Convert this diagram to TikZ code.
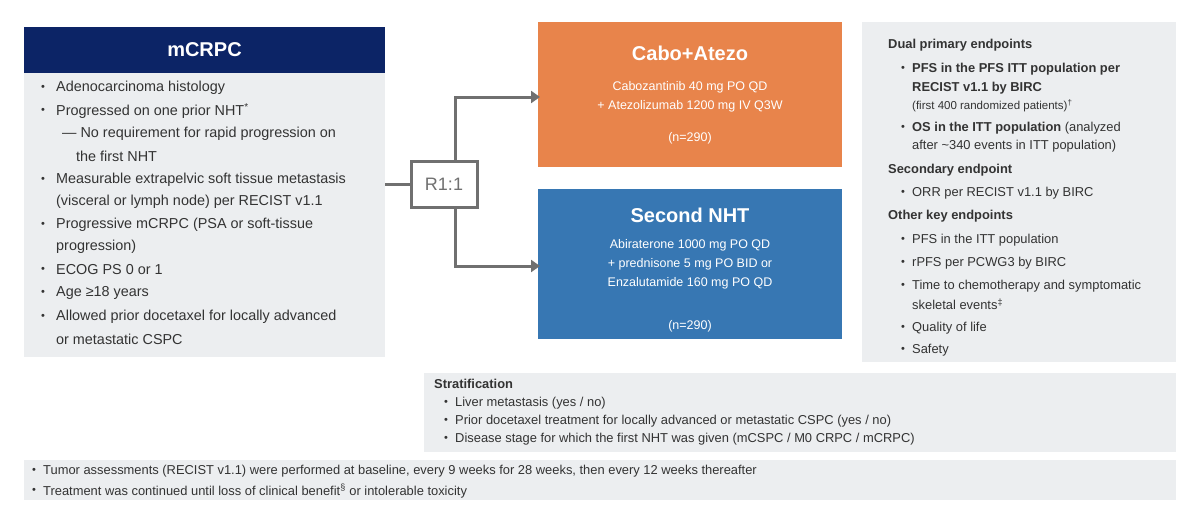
\documentclass[tikz,border=0pt]{standalone}
\usepackage{fontspec}
\usetikzlibrary{arrows.meta}
\setmainfont{Liberation Sans}
\definecolor{navy}{HTML}{0C2466}
\definecolor{panel}{HTML}{ECEEF0}
\definecolor{orng}{HTML}{E8844B}
\definecolor{blu}{HTML}{3777B3}
\definecolor{txt}{HTML}{333333}
\definecolor{conn}{HTML}{707070}
\tikzset{
 t/.style={anchor=west,inner sep=0pt,text=txt,font=\fontsize{14.4}{16}\selectfont},
 s/.style={anchor=west,inner sep=0pt,text=txt,font=\fontsize{12.9}{15}\selectfont},
 sb/.style={s,font=\fontsize{12.9}{15}\selectfont\bfseries},
 w/.style={inner sep=0pt,text=white,font=\fontsize{12.5}{15}\selectfont},
 bul/.style={anchor=west,inner sep=0pt,text=txt,font=\fontsize{11}{13}\selectfont},
 arm/.style={draw=conn,line width=3pt},
}
\begin{document}
\begin{tikzpicture}[x=1pt,y=-1pt]
\useasboundingbox (0,0) rectangle (1200,515);
\fill[white] (0,0) rectangle (1200,515);
% left
\fill[panel] (24,27) rectangle (385,357);
\fill[navy] (24,27) rectangle (385,73);
\node[w,font=\fontsize{20}{24}\selectfont\bfseries] (hd) at (204.5,50) {mCRPC};
\foreach \y/\tx [count=\i] in {88/{Adenocarcinoma histology},111/{Progressed on one prior NHT\textsuperscript{*}},180/{Measurable extrapelvic soft tissue metastasis},225/{Progressive mCRPC (PSA or soft-tissue},270/{ECOG PS 0 or 1},293/{Age ≥18 years},317/{Allowed prior docetaxel for locally advanced}}
 {\node[bul] (lb\i) at (41,\y) {•}; \node[t] (l\i) at (56,\y) {\tx};}
\node[t] (s1) at (62,134) {— No requirement for rapid progression on};
\node[t] (s2) at (76,156) {the first NHT};
\node[t] (c3) at (56,202) {(visceral or lymph node) per RECIST v1.1};
\node[t] (c4) at (56,247) {progression)};
\node[t] (c7) at (56,339) {or metastatic CSPC};
% randomization
\node[draw=conn,line width=3pt,minimum width=66pt,minimum height=46pt,inner sep=0pt,text=conn,font=\fontsize{18}{20}\selectfont] (r) at (444,184) {R1:1};
\coordinate (lft) at (385,184);
% boxes
\fill[orng] (538,22) rectangle (842,167);
\fill[blu] (538,189) rectangle (842,339);
\coordinate (oa) at (540,97);
\coordinate (ba) at (540,266);
\draw[arm] (lft) -- (r.west);
\draw[arm,-{Triangle[length=9pt,width=12pt]}] (455,161) -- (455,97) -- (oa);
\draw[arm,-{Triangle[length=9pt,width=12pt]}] (455,207) -- (455,266) -- (ba);
\node[w,font=\fontsize{20}{24}\selectfont\bfseries] (ot) at (690,53) {Cabo+Atezo};
\node[w] (o1) at (690,87) {Cabozantinib 40 mg PO QD};
\node[w] (o2) at (690,106) {+ Atezolizumab 1200 mg IV Q3W};
\node[w] (o3) at (690,138) {(n=290)};
\node[w,font=\fontsize{20}{24}\selectfont\bfseries] (bt) at (690,215) {Second NHT};
\node[w] (b1) at (690,245) {Abiraterone 1000 mg PO QD};
\node[w] (b2) at (690,264) {+ prednisone 5 mg PO BID or};
\node[w] (b3) at (690,283) {Enzalutamide 160 mg PO QD};
\node[w] (b4) at (690,326) {(n=290)};
% right panel
\fill[panel] (862,22) rectangle (1176,362);
\node[sb] (h1) at (888,45) {Dual primary endpoints};
\node[bul] (rb1) at (901,69) {•};
\node[sb] (r1) at (912,69) {PFS in the PFS ITT population per};
\node[sb] (r1b) at (912,88) {RECIST v1.1 by BIRC};
\node[s,font=\fontsize{11.5}{13}\selectfont] (r1c) at (912,106) {(first 400 randomized patients)\textsuperscript{†}};
\node[bul] (rb2) at (901,128) {•};
\node[s] (r2) at (912,128) {\textbf{OS in the ITT population} (analyzed};
\node[s] (r2b) at (912,146) {after \textasciitilde340 events in ITT population)};
\node[sb] (h2) at (888,170) {Secondary endpoint};
\node[bul] (rb3) at (901,193) {•};
\node[s] (r3) at (912,193) {ORR per RECIST v1.1 by BIRC};
\node[sb] (h3) at (888,216) {Other key endpoints};
\foreach \y/\tx [count=\i] in {240/{PFS in the ITT population},263/{rPFS per PCWG3 by BIRC},286/{Time to chemotherapy and symptomatic},328/{Quality of life},350/{Safety}}
 {\node[bul] (ob\i) at (901,\y) {•}; \node[s] (o\i x) at (912,\y) {\tx};}
\node[s] (o3b) at (912,304) {skeletal events\textsuperscript{‡}};
% stratification
\fill[panel] (424,373) rectangle (1176,452);
\node[sb] (sh) at (434,384) {Stratification};
\foreach \y/\tx [count=\i] in {403/{Liver metastasis (yes / no)},421/{Prior docetaxel treatment for locally advanced or metastatic  CSPC (yes / no)},439/{Disease stage for which the first NHT was given (mCSPC / M0 CRPC / mCRPC)}}
 {\node[bul] (sb\i) at (444,\y) {•}; \node[s] (st\i) at (455,\y) {\tx};}
% bottom
\fill[panel] (24,460) rectangle (1176,500);
\node[bul] (fb1) at (32,471) {•};
\node[s] (f1) at (43,471) {Tumor assessments (RECIST v1.1) were performed at baseline, every 9 weeks for 28 weeks, then every 12 weeks thereafter};
\node[bul] (fb2) at (32,491) {•};
\node[s] (f2) at (43,491) {Treatment was continued until loss of clinical benefit\textsuperscript{§} or intolerable toxicity};
\end{tikzpicture}
\end{document}
